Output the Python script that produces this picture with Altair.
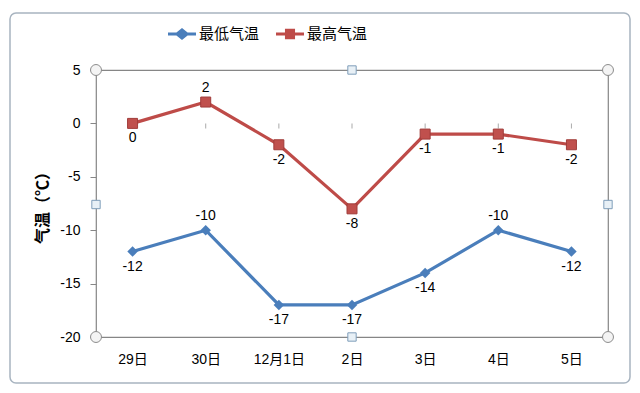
import altair as alt
import pandas as pd

days = ["29日", "30日", "12月1日", "2日", "3日", "4日", "5日"]
low_temps = [-12, -10, -17, -17, -14, -10, -12]
high_temps = [0, 2, -2, -8, -1, -1, -2]
series_names = ["最低气温", "最高气温"]
series_colors = ["#4A7EBB", "#BE4B48"]
y_ticks = [-20, -15, -10, -5, 0, 5]

FONT = "Liberation Sans, Noto Sans CJK SC, sans-serif"
CJK = "Noto Sans CJK SC, sans-serif"
GRID = "#868686"
W, H = 512, 267

rows = []
for name, vals in zip(series_names, [low_temps, high_temps]):
    n = len(vals)
    for i, (d, v) in enumerate(zip(days, vals)):
        left = vals[i - 1] if i > 0 else None
        right = vals[i + 1] if i < n - 1 else None
        above = left is not None and right is not None and v > left and v > right
        rows.append({"day": d, "temp": v, "label": str(v), "series": name, "above": above})
df = pd.DataFrame(rows)

diamond_leg = "M-1,-0.11 L-0.4,-0.11 L0,-0.42 L0.4,-0.11 L1,-0.11 L1,0.11 L0.4,0.11 L0,0.42 L-0.4,0.11 L-1,0.11 Z"
square_leg = "M-1,-0.11 L-0.36,-0.11 L-0.36,-0.38 L0.36,-0.38 L0.36,-0.11 L1,-0.11 L1,0.11 L0.36,0.11 L0.36,0.38 L-0.36,0.38 L-0.36,0.11 L-1,0.11 Z"

x_enc = alt.X("day:N", sort=days, scale=alt.Scale(type="point", padding=0.5),
              axis=alt.Axis(title=None, domain=False, ticks=False, grid=False,
                            labelPadding=15, labelFontSize=14, labelFont=FONT,
                            labelColor="#000000", labelAngle=0))
y_enc = alt.Y("temp:Q", scale=alt.Scale(domain=[-20, 5], nice=False, zero=False),
              axis=alt.Axis(values=y_ticks, title="气温（℃）", titleFont=CJK,
                            titleFontSize=16, titleFontWeight="bold", titleColor="#000000",
                            titleAngle=-90, titleX=-54, titleY=H / 2,
                            titleAlign="center", titleBaseline="middle",
                            labelExpr="toString(datum.value)",
                            domain=False, tickSize=6, tickColor=GRID,
                            gridColor=GRID, gridWidth=1.2, labelPadding=10,
                            labelFontSize=14, labelFont=FONT, labelColor="#000000"))
color_scale = alt.Scale(domain=series_names, range=series_colors)

base = alt.Chart(df)

frame = alt.Chart(pd.DataFrame({"a": [0]})).mark_rect(
    fill=None, stroke="#A8B4C0", strokeWidth=1.5, cornerRadius=6
).encode(x=alt.value(-86), x2=alt.value(W + 22), y=alt.value(-57), y2=alt.value(H + 46))

zero_ticks = base.transform_filter(alt.datum.series == series_names[0]).mark_tick(
    orient="vertical", size=5, yOffset=2.5, thickness=1, color=GRID
).encode(x=x_enc, y=alt.datum(0))

lines = base.mark_line(strokeWidth=3.2).encode(
    x=x_enc, y=y_enc, color=alt.Color("series:N", scale=color_scale, sort=series_names)
)

low_pts = base.transform_filter(alt.datum.series == series_names[0]).mark_point(
    shape="diamond", filled=True, size=110, opacity=1, color=series_colors[0]
).encode(x=x_enc, y=y_enc)
high_pts = base.transform_filter(alt.datum.series == series_names[1]).mark_point(
    shape="square", filled=True, size=100, opacity=1, color="#C0504D",
    stroke="#A03C3A", strokeWidth=1
).encode(x=x_enc, y=y_enc)

legend_layer = base.transform_filter("false").mark_point(filled=True, opacity=1).encode(
    x=x_enc, y=y_enc,
    color=alt.Color("series:N", scale=color_scale, sort=series_names,
                    legend=alt.Legend(title=None, orient="none", direction="horizontal",
                                      legendX=72, legendY=-50, symbolSize=784,
                                      symbolOpacity=1, symbolStrokeWidth=0,
                                      columnPadding=16, labelOffset=3,
                                      labelFont=CJK, labelFontSize=15,
                                      labelColor="#000000")),
    shape=alt.Shape("series:N", sort=series_names,
                    scale=alt.Scale(domain=series_names, range=[diamond_leg, square_leg])),
)

labels_below = base.transform_filter("!datum.above").mark_text(
    dy=15, fontSize=14, font=FONT, color="#000000", baseline="middle"
).encode(x=x_enc, y=y_enc, text="label:N")
labels_above = base.transform_filter("datum.above").mark_text(
    dy=-14, fontSize=14, font=FONT, color="#000000", baseline="middle"
).encode(x=x_enc, y=y_enc, text="label:N")

handles_c = pd.DataFrame({"px": [0, W, 0, W], "py": [0, 0, H, H]})
handles_s = pd.DataFrame({"px": [W / 2, W / 2, 0, W], "py": [0, H, H / 2 + 1, H / 2 + 1]})
circles = alt.Chart(handles_c).mark_point(
    shape="circle", filled=True, size=120, fill="#F4F4F4", stroke="#8C8C8C", strokeWidth=1, opacity=1
).encode(x=alt.X("px:Q", scale=None), y=alt.Y("py:Q", scale=None))
squares = alt.Chart(handles_s).mark_point(
    shape="square", filled=True, size=70, fill="#E8F0F6", stroke="#7F9DB9", strokeWidth=1, opacity=1
).encode(x=alt.X("px:Q", scale=None), y=alt.Y("py:Q", scale=None))

chart = alt.layer(
    frame, zero_ticks, lines, low_pts, high_pts, legend_layer,
    labels_below, labels_above, circles, squares
).properties(
    width=W, height=H,
    autosize=alt.AutoSizeParams(type="none"),
    padding={"left": 88, "top": 62, "right": 24, "bottom": 48},
    background="#FFFFFF",
).configure_view(stroke=GRID, strokeWidth=1.2)

chart.save("out.html", embed_options={"renderer": "svg", "actions": False})
